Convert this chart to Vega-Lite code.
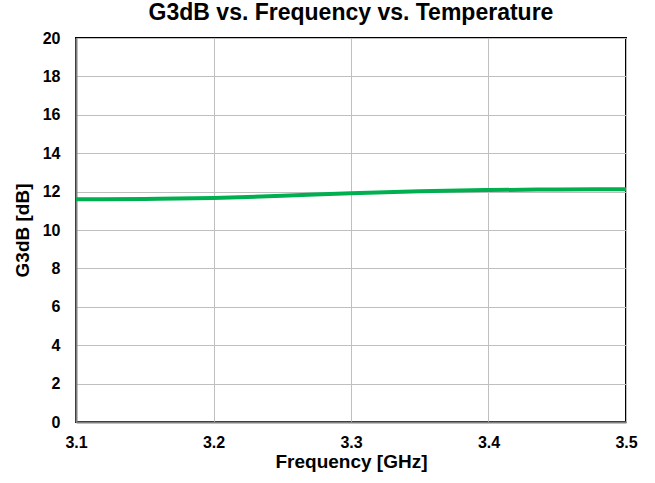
{
  "$schema": "https://vega.github.io/schema/vega-lite/v6.json",
  "width": 550,
  "height": 384,
  "autosize": {"type": "none"},
  "padding": {"left": 76, "top": 38, "right": 29, "bottom": 61},
  "background": "white",
  "title": {
    "text": "G3dB vs. Frequency vs. Temperature",
    "font": "Liberation Sans",
    "fontSize": 23,
    "fontWeight": "bold",
    "color": "#000000",
    "anchor": "middle",
    "offset": 5
  },
  "data": {
    "values": [
      {"freq": 3.1, "g3db": 11.6},
      {"freq": 3.15, "g3db": 11.62},
      {"freq": 3.2, "g3db": 11.67},
      {"freq": 3.25, "g3db": 11.78},
      {"freq": 3.3, "g3db": 11.92},
      {"freq": 3.35, "g3db": 12.02},
      {"freq": 3.4, "g3db": 12.08},
      {"freq": 3.45, "g3db": 12.11},
      {"freq": 3.5, "g3db": 12.12}
    ]
  },
  "mark": {"type": "line", "color": "#00B050", "strokeWidth": 4, "interpolate": "monotone"},
  "encoding": {
    "x": {
      "field": "freq",
      "type": "quantitative",
      "scale": {"domain": [3.1, 3.5], "nice": false, "zero": false},
      "axis": {
        "title": "Frequency [GHz]",
        "values": [3.1, 3.2, 3.3, 3.4, 3.5],
        "format": ".1f",
        "labelPadding": 12,
        "titlePadding": 2
      }
    },
    "y": {
      "field": "g3db",
      "type": "quantitative",
      "scale": {"domain": [0, 20], "nice": false},
      "axis": {
        "title": "G3dB [dB]",
        "values": [0, 2, 4, 6, 8, 10, 12, 14, 16, 18, 20],
        "labelPadding": 16,
        "titlePadding": 10
      }
    }
  },
  "config": {
    "view": {"stroke": "#000000", "strokeWidth": 2},
    "axis": {
      "labelFont": "Liberation Sans",
      "labelFontSize": 16,
      "labelFontWeight": "bold",
      "labelColor": "#000000",
      "titleFont": "Liberation Sans",
      "titleFontSize": 19,
      "titleFontWeight": "bold",
      "titleColor": "#000000",
      "ticks": false,
      "domainColor": "#808080",
      "domainWidth": 2,
      "gridColor": "#bfbfbf",
      "gridWidth": 1,
      "gridOpacity": 1,
      "labelFlush": false,
      "labelOverlap": false
    }
  }
}
